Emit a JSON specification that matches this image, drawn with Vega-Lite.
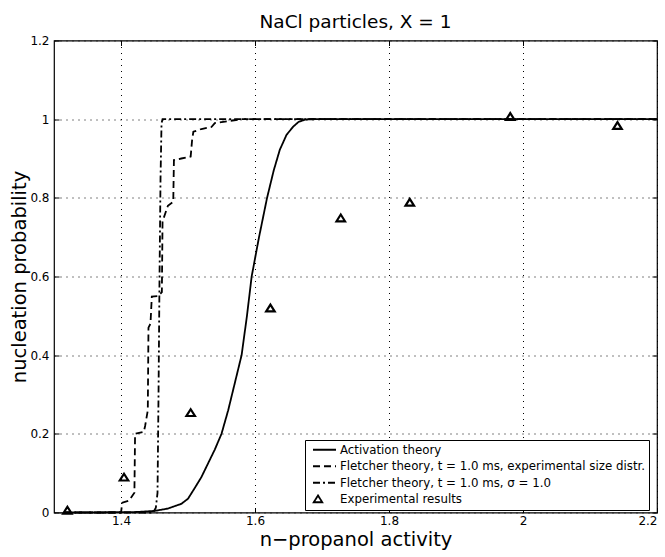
{
  "$schema": "https://vega.github.io/schema/vega-lite/v6.json",
  "width": 603,
  "height": 472,
  "autosize": {"type": "none"},
  "padding": {"left": 54, "top": 40.5, "right": 8, "bottom": 44.5},
  "background": "white",
  "title": {"text": "NaCl particles, X = 1", "font": "DejaVu Sans", "fontSize": 18.5, "fontWeight": "normal", "color": "black", "offset": 3, "anchor": "middle"},
  "config": {
    "view": {"stroke": "black", "strokeWidth": 1.2},
    "axis": {
      "domain": false,
      "tickColor": "black",
      "tickSize": -5,
      "tickWidth": 1,
      "labelFont": "DejaVu Sans",
      "labelFontSize": 12,
      "labelColor": "black",
      "titleFont": "DejaVu Sans",
      "titleFontSize": 19.5,
      "titleFontWeight": "normal",
      "titleColor": "black",
      "gridColor": "black",
      "gridDash": [1, 5],
      "gridWidth": 1,
      "gridOpacity": 1
    }
  },
  "datasets": {
    "curves": [
      {"a": 1.315, "p": 0, "series": "Activation theory"},
      {"a": 1.42, "p": 0.001, "series": "Activation theory"},
      {"a": 1.45, "p": 0.004, "series": "Activation theory"},
      {"a": 1.47, "p": 0.01, "series": "Activation theory"},
      {"a": 1.49, "p": 0.022, "series": "Activation theory"},
      {"a": 1.5, "p": 0.035, "series": "Activation theory"},
      {"a": 1.51, "p": 0.062, "series": "Activation theory"},
      {"a": 1.52, "p": 0.09, "series": "Activation theory"},
      {"a": 1.53, "p": 0.125, "series": "Activation theory"},
      {"a": 1.54, "p": 0.16, "series": "Activation theory"},
      {"a": 1.55, "p": 0.2, "series": "Activation theory"},
      {"a": 1.56, "p": 0.26, "series": "Activation theory"},
      {"a": 1.57, "p": 0.33, "series": "Activation theory"},
      {"a": 1.58, "p": 0.4, "series": "Activation theory"},
      {"a": 1.588, "p": 0.5, "series": "Activation theory"},
      {"a": 1.595, "p": 0.6, "series": "Activation theory"},
      {"a": 1.606, "p": 0.7, "series": "Activation theory"},
      {"a": 1.618, "p": 0.8, "series": "Activation theory"},
      {"a": 1.628, "p": 0.87, "series": "Activation theory"},
      {"a": 1.637, "p": 0.922, "series": "Activation theory"},
      {"a": 1.647, "p": 0.96, "series": "Activation theory"},
      {"a": 1.657, "p": 0.981, "series": "Activation theory"},
      {"a": 1.665, "p": 0.993, "series": "Activation theory"},
      {"a": 1.675, "p": 0.999, "series": "Activation theory"},
      {"a": 1.69, "p": 1.0, "series": "Activation theory"},
      {"a": 2.2, "p": 1.0, "series": "Activation theory"},

      {"a": 1.315, "p": 0, "series": "Fletcher theory, t = 1.0 ms, experimental size distr."},
      {"a": 1.4, "p": 0.0, "series": "Fletcher theory, t = 1.0 ms, experimental size distr."},
      {"a": 1.402, "p": 0.025, "series": "Fletcher theory, t = 1.0 ms, experimental size distr."},
      {"a": 1.412, "p": 0.03, "series": "Fletcher theory, t = 1.0 ms, experimental size distr."},
      {"a": 1.42, "p": 0.05, "series": "Fletcher theory, t = 1.0 ms, experimental size distr."},
      {"a": 1.421, "p": 0.2, "series": "Fletcher theory, t = 1.0 ms, experimental size distr."},
      {"a": 1.434, "p": 0.205, "series": "Fletcher theory, t = 1.0 ms, experimental size distr."},
      {"a": 1.436, "p": 0.22, "series": "Fletcher theory, t = 1.0 ms, experimental size distr."},
      {"a": 1.44, "p": 0.26, "series": "Fletcher theory, t = 1.0 ms, experimental size distr."},
      {"a": 1.441, "p": 0.47, "series": "Fletcher theory, t = 1.0 ms, experimental size distr."},
      {"a": 1.444, "p": 0.48, "series": "Fletcher theory, t = 1.0 ms, experimental size distr."},
      {"a": 1.446, "p": 0.549, "series": "Fletcher theory, t = 1.0 ms, experimental size distr."},
      {"a": 1.455, "p": 0.55, "series": "Fletcher theory, t = 1.0 ms, experimental size distr."},
      {"a": 1.461, "p": 0.56, "series": "Fletcher theory, t = 1.0 ms, experimental size distr."},
      {"a": 1.462, "p": 0.74, "series": "Fletcher theory, t = 1.0 ms, experimental size distr."},
      {"a": 1.47, "p": 0.78, "series": "Fletcher theory, t = 1.0 ms, experimental size distr."},
      {"a": 1.478, "p": 0.79, "series": "Fletcher theory, t = 1.0 ms, experimental size distr."},
      {"a": 1.479, "p": 0.896, "series": "Fletcher theory, t = 1.0 ms, experimental size distr."},
      {"a": 1.49, "p": 0.9, "series": "Fletcher theory, t = 1.0 ms, experimental size distr."},
      {"a": 1.504, "p": 0.905, "series": "Fletcher theory, t = 1.0 ms, experimental size distr."},
      {"a": 1.506, "p": 0.945, "series": "Fletcher theory, t = 1.0 ms, experimental size distr."},
      {"a": 1.508, "p": 0.968, "series": "Fletcher theory, t = 1.0 ms, experimental size distr."},
      {"a": 1.52, "p": 0.975, "series": "Fletcher theory, t = 1.0 ms, experimental size distr."},
      {"a": 1.535, "p": 0.98, "series": "Fletcher theory, t = 1.0 ms, experimental size distr."},
      {"a": 1.54, "p": 0.99, "series": "Fletcher theory, t = 1.0 ms, experimental size distr."},
      {"a": 1.56, "p": 0.995, "series": "Fletcher theory, t = 1.0 ms, experimental size distr."},
      {"a": 1.58, "p": 1.0, "series": "Fletcher theory, t = 1.0 ms, experimental size distr."},
      {"a": 2.2, "p": 1.0, "series": "Fletcher theory, t = 1.0 ms, experimental size distr."},

      {"a": 1.315, "p": 0, "series": "Fletcher theory, t = 1.0 ms, σ = 1.0"},
      {"a": 1.448, "p": 0.0, "series": "Fletcher theory, t = 1.0 ms, σ = 1.0"},
      {"a": 1.452, "p": 0.012, "series": "Fletcher theory, t = 1.0 ms, σ = 1.0"},
      {"a": 1.4545, "p": 0.05, "series": "Fletcher theory, t = 1.0 ms, σ = 1.0"},
      {"a": 1.456, "p": 0.3, "series": "Fletcher theory, t = 1.0 ms, σ = 1.0"},
      {"a": 1.4575, "p": 0.6, "series": "Fletcher theory, t = 1.0 ms, σ = 1.0"},
      {"a": 1.459, "p": 0.85, "series": "Fletcher theory, t = 1.0 ms, σ = 1.0"},
      {"a": 1.4605, "p": 0.99, "series": "Fletcher theory, t = 1.0 ms, σ = 1.0"},
      {"a": 1.462, "p": 1.0, "series": "Fletcher theory, t = 1.0 ms, σ = 1.0"},
      {"a": 2.2, "p": 1.0, "series": "Fletcher theory, t = 1.0 ms, σ = 1.0"}
    ],
    "exp": [
      {"a": 1.32, "p": 0.005, "series": "Experimental results"},
      {"a": 1.4045, "p": 0.089, "series": "Experimental results"},
      {"a": 1.504, "p": 0.253, "series": "Experimental results"},
      {"a": 1.623, "p": 0.519, "series": "Experimental results"},
      {"a": 1.728, "p": 0.748, "series": "Experimental results"},
      {"a": 1.831, "p": 0.788, "series": "Experimental results"},
      {"a": 1.981, "p": 1.006, "series": "Experimental results"},
      {"a": 2.141, "p": 0.983, "series": "Experimental results"}
    ]
  },
  "layer": [
    {
      "data": {"name": "curves"},
      "mark": {"type": "line", "color": "black", "strokeWidth": 1.8},
      "encoding": {
        "x": {
          "field": "a", "type": "quantitative",
          "scale": {"domain": [1.3, 2.2], "nice": false, "zero": false},
          "axis": {"orient": "bottom", "values": [1.4, 1.6, 1.8, 2.0, 2.2], "labelExpr": "'' + datum.value", "grid": true, "labelPadding": 8, "title": "n−propanol activity", "titlePadding": 4}
        },
        "y": {
          "field": "p", "type": "quantitative",
          "scale": {"domain": [0, 1.2], "nice": false, "zero": false},
          "axis": {"orient": "left", "values": [0, 0.2, 0.4, 0.6, 0.8, 1.0, 1.2], "labelExpr": "'' + datum.value", "grid": true, "labelPadding": 10, "title": "nucleation probability", "titlePadding": 0}
        },
        "strokeDash": {
          "field": "series", "type": "nominal",
          "scale": {
            "domain": ["Activation theory", "Fletcher theory, t = 1.0 ms, experimental size distr.", "Fletcher theory, t = 1.0 ms, σ = 1.0", "Experimental results"],
            "range": [[1, 0], [7, 4], [7, 3, 2, 3], [1, 0]]
          },
          "legend": {
            "title": null, "orient": "none", "legendX": 251, "legendY": 399.5,
            "strokeColor": "black", "fillColor": "white", "padding": 3, "cornerRadius": 0,
            "labelFont": "DejaVu Sans", "labelFontSize": 11.8, "labelColor": "black",
            "symbolSize": 100, "symbolOffset": 4, "labelOffset": 16, "rowPadding": 2.5, "clipHeight": 13.5,
            "labelLimit": 400, "symbolOpacity": 1,
            "symbolStrokeColor": "black", "symbolFillColor": "transparent", "symbolStrokeWidth": 1.8
          }
        }
      }
    },
    {
      "data": {"name": "exp"},
      "mark": {"type": "point", "filled": false, "color": "black", "opacity": 1, "strokeWidth": 2.2, "size": 100, "clip": false},
      "encoding": {
        "x": {
          "field": "a", "type": "quantitative",
          "axis": {"orient": "top", "values": [1.4, 1.6, 1.8, 2.0, 2.2], "labels": false, "title": null, "grid": false}
        },
        "y": {
          "field": "p", "type": "quantitative",
          "axis": {"orient": "right", "values": [0, 0.2, 0.4, 0.6, 0.8, 1.0, 1.2], "labels": false, "title": null, "grid": false}
        },
        "shape": {
          "field": "series", "type": "nominal",
          "scale": {
            "domain": ["Activation theory", "Fletcher theory, t = 1.0 ms, experimental size distr.", "Fletcher theory, t = 1.0 ms, σ = 1.0", "Experimental results"],
            "range": ["M-1,0H3.6", "M-1,0H3.6", "M-1,0H3.6", "M0,-0.75L0.85,0.6L-0.85,0.6Z"]
          },
          "legend": {
            "title": null, "orient": "none", "legendX": 251, "legendY": 399.5,
            "strokeColor": "black", "fillColor": "white", "padding": 3, "cornerRadius": 0,
            "labelFont": "DejaVu Sans", "labelFontSize": 11.8, "labelColor": "black",
            "symbolSize": 100, "symbolOffset": 4, "labelOffset": 16, "rowPadding": 2.5, "clipHeight": 13.5,
            "labelLimit": 400, "symbolOpacity": 1,
            "symbolStrokeColor": "black", "symbolFillColor": "transparent", "symbolStrokeWidth": 1.8
          }
        }
      }
    }
  ]
}
